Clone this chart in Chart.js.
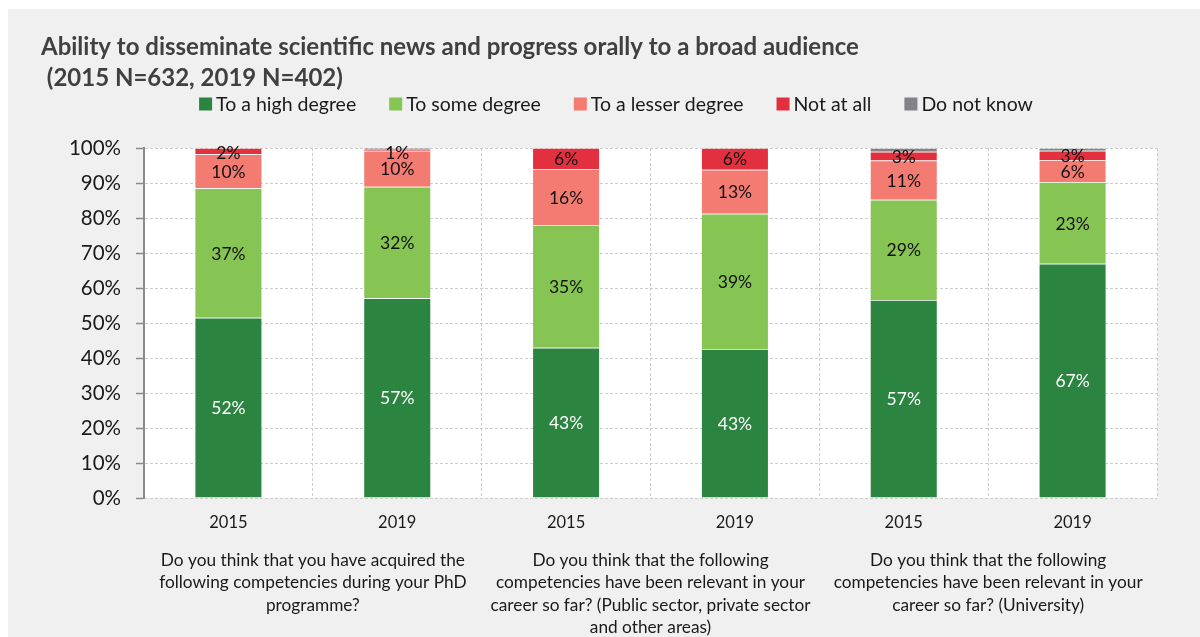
<!DOCTYPE html>
<html><head><meta charset="utf-8">
<script src="https://cdn.jsdelivr.net/npm/chart.js@4.4.1/dist/chart.umd.min.js"></script>
<style>html,body{margin:0;padding:0;background:#fff;overflow:hidden}#wrap{position:relative;width:1200px;height:637px}</style>
</head><body><div id="wrap"><canvas id="c"></canvas></div>
<script>
const titleLines = ['Ability to disseminate scientific news and progress orally to a broad audience', ' (2015 N=632, 2019 N=402)'];
const categories = ['2015', '2019', '2015', '2019', '2015', '2019'];
const groupLabels = [
  ['Do you think that you have acquired the', 'following competencies during your PhD', 'programme?'],
  ['Do you think that the following', 'competencies have been relevant in your', 'career so far? (Public sector, private sector', 'and other areas)'],
  ['Do you think that the following', 'competencies have been relevant in your', 'career so far? (University)']
];
const seriesNames = ['To a high degree', 'To some degree', 'To a lesser degree', 'Not at all', 'Do not know'];
const seriesColors = ['#2b8541', '#86c454', '#f47b72', '#e3303e', '#838387'];
const highDegree = [51.5, 57.1, 42.9, 42.6, 56.6, 66.9];
const someDegree = [37.0, 31.8, 35.1, 38.6, 28.6, 23.4];
const lesserDegree = [9.7, 10.3, 16.0, 12.6, 11.2, 6.3];
const notAtAll = [1.8, 0.6, 6.0, 6.2, 2.5, 2.6];
const doNotKnow = [0, 0.2, 0, 0, 1.1, 0.8];
const yTickValues = [0, 10, 20, 30, 40, 50, 60, 70, 80, 90, 100];

const FONT = 'Lato, "Open Sans", sans-serif';
const seriesValues = [highDegree, someDegree, lesserDegree, notAtAll, doNotKnow];

const bgPlugin = {
  id: 'bg',
  beforeDraw(chart) {
    const {ctx, chartArea: a} = chart;
    ctx.save();
    ctx.fillStyle = '#ffffff';
    ctx.fillRect(0, 0, chart.width, chart.height);
    ctx.fillStyle = '#f0f0f0';
    ctx.fillRect(8, 9, chart.width - 8, chart.height - 9);
    ctx.fillStyle = '#ffffff';
    ctx.fillRect(a.left, a.top, a.right - a.left, a.bottom - a.top);
    ctx.restore();
  }
};

const legendPlugin = {
  id: 'customLegend',
  afterDraw(chart) {
    const ctx = chart.ctx;
    ctx.save();
    ctx.font = '19.5px ' + FONT;
    ctx.textBaseline = 'middle';
    ctx.textAlign = 'left';
    const items = chart.data.datasets.map(d => ({text: d.label, color: d.backgroundColor, w: ctx.measureText(d.label).width}));
    const box = 13, gapBT = 4, gap = 33;
    const total = items.reduce((s, it) => s + box + gapBT + it.w, 0) + gap * (items.length - 1);
    let x = 616 - total / 2;
    const y = 104;
    items.forEach(it => {
      ctx.fillStyle = it.color;
      ctx.fillRect(x, y - 6.5, box, box);
      x += box + gapBT;
      ctx.fillStyle = '#1a1a1a';
      ctx.fillText(it.text, x, y + 1);
      x += it.w + gap;
    });
    ctx.restore();
  }
};

const labelPlugin = {
  id: 'segLabels',
  afterDatasetsDraw(chart) {
    const ctx = chart.ctx;
    const top = chart.chartArea.top;
    ctx.save();
    ctx.font = '17.5px ' + FONT;
    ctx.textAlign = 'center';
    ctx.textBaseline = 'middle';
    chart.data.datasets.forEach((ds, di) => {
      if (di === 4) return;
      const meta = chart.getDatasetMeta(di);
      meta.data.forEach((el, i) => {
        const v = ds.data[i];
        if (!v) return;
        let cy = (el.y + el.base) / 2;
        if (cy < top + 4) cy = top + 4;
        ctx.fillStyle = di === 0 ? '#ffffff' : '#111111';
        ctx.fillText(Math.round(v) + '%', el.x, cy + 1);
      });
    });
    ctx.restore();
  }
};

new Chart(document.getElementById('c'), {
  type: 'bar',
  data: {
    labels: categories,
    datasets: seriesNames.map((n, i) => ({
      label: n,
      data: seriesValues[i],
      backgroundColor: seriesColors[i],
      borderColor: 'rgba(255,255,255,0.35)',
      borderWidth: 0.75,
      barPercentage: 0.4,
      categoryPercentage: 1.0
    }))
  },
  options: {
    responsive: true,
    maintainAspectRatio: false,
    animation: false,
    devicePixelRatio: 1,
    layout: {padding: {left: 41, right: 43, top: 0, bottom: 0}},
    plugins: {
      legend: {display: false},
      tooltip: {enabled: false},
      title: {
        display: true,
        text: titleLines,
        align: 'start',
        color: '#404040',
        font: {family: FONT, size: 24, weight: 'bold', lineHeight: 31 / 24},
        padding: {top: 31.5, bottom: 54.5}
      }
    },
    scales: {
      x: {
        stacked: true,
        offset: true,
        weight: 0,
        grid: {color: '#cdcdcd', offset: true, drawTicks: false, lineWidth: 1},
        border: {display: false, dash: [3, 2]},
        ticks: {color: '#1a1a1a', font: {family: FONT, size: 16.5}, padding: 15.2, maxRotation: 0, autoSkip: false},
        afterFit(s) { s.height = 36; }
      },
      x2: {
        type: 'category',
        position: 'bottom',
        labels: groupLabels,
        offset: true,
        weight: 1,
        grid: {display: false, drawTicks: false},
        border: {display: false},
        ticks: {color: '#1a1a1a', font: {family: FONT, size: 17.25, lineHeight: 22.5 / 17.25}, padding: 14.75, maxRotation: 0, minRotation: 0, autoSkip: false},
        afterFit(s) { s.height = 103; }
      },
      y: {
        stacked: true,
        min: 0,
        max: 100,
        afterBuildTicks(s) { s.ticks = yTickValues.map(v => ({value: v})); },
        ticks: {color: '#1a1a1a', font: {family: FONT, size: 20.5}, padding: 15, callback: v => v + '%'},
        grid: {color: '#cdcdcd', tickColor: '#8a8a8a', tickLength: 8, tickWidth: 1.5, lineWidth: 1},
        border: {display: true, color: '#8a8a8a', width: 2, dash: [3, 2]},
        afterFit(s) { s.width = 103; }
      }
    }
  },
  plugins: [bgPlugin, legendPlugin, labelPlugin]
});
</script></body></html>
